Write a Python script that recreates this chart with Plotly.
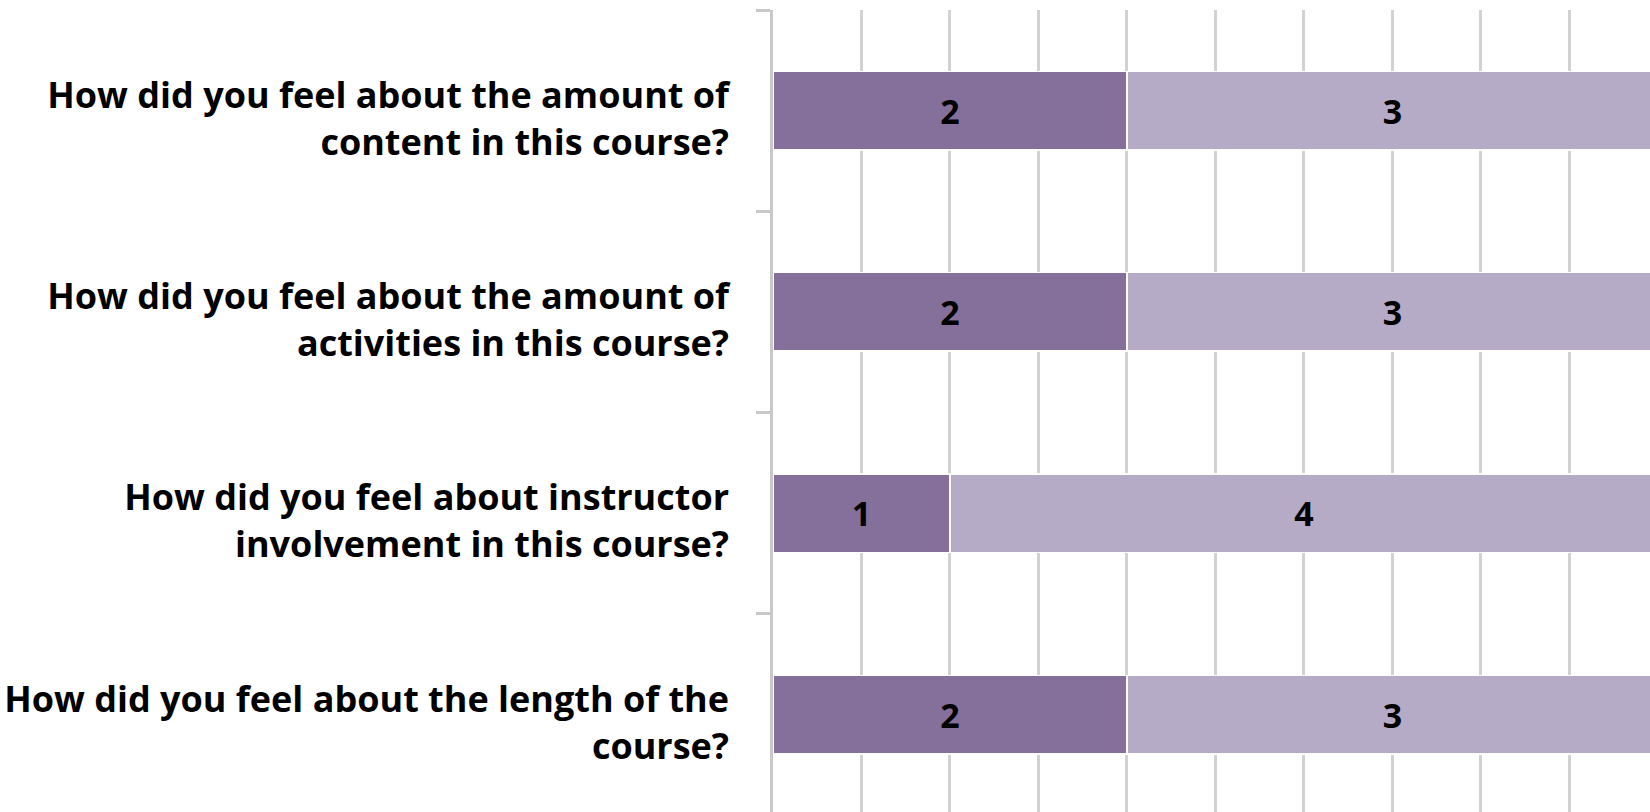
import plotly.graph_objects as go

questions = [
    "How did you feel about the amount of<br>content in this course?",
    "How did you feel about the amount of<br>activities in this course?",
    "How did you feel about instructor<br>involvement in this course?",
    "How did you feel about the length of the<br>course?",
]
series_a = [2, 2, 1, 2]
series_b = [3, 3, 4, 3]

cats = [f"q{i}" for i in range(len(questions))]
labels = [f"<b>{q}</b>" for q in questions]

dark = "#85709c"
light = "#b5abc6"
font_family = "Open Sans, Lato, sans-serif"
lsize = 36
dsize = 34

fig = go.Figure()
for vals, col in [(series_a, dark), (series_b, light)]:
    fig.add_trace(go.Bar(
        y=cats, x=vals, orientation="h",
        marker=dict(color=col, line=dict(color="white", width=1.5)),
        text=[f"<b>{v}</b>" for v in vals],
        textposition="inside", insidetextanchor="middle",
        textfont=dict(family=font_family, size=dsize, color="black"),
        showlegend=False, cliponaxis=True,
    ))

fig.update_layout(
    width=1650, height=812,
    margin=dict(l=773, r=0, t=10, b=0),
    barmode="stack", bargap=0.61,
    plot_bgcolor="white", paper_bgcolor="white",
    font=dict(family=font_family, size=lsize, color="black"),
)
fig.update_xaxes(
    range=[0, 4.955], dtick=0.5, tick0=0,
    showgrid=True, gridcolor="#d2d2d2", gridwidth=2.5,
    showticklabels=False, zeroline=False, showline=False, ticks="",
)
fig.update_yaxes(
    type="category", categoryorder="array", categoryarray=cats,
    tickvals=cats, ticktext=labels,
    range=[3.484, -0.5],
    showline=True, linecolor="#c8c8c8", linewidth=2.5,
    ticks="outside", tickson="boundaries", ticklen=14, tickwidth=2.5, tickcolor="#c8c8c8",
    ticklabelstandoff=34, ticklabelshift=-8,
    tickfont=dict(family=font_family, size=lsize, color="black"),
    showgrid=False,
)

fig.write_html("out.html", config={"displayModeBar": False},
               post_script="document.body.style.margin='0';document.body.style.overflow='hidden';")
